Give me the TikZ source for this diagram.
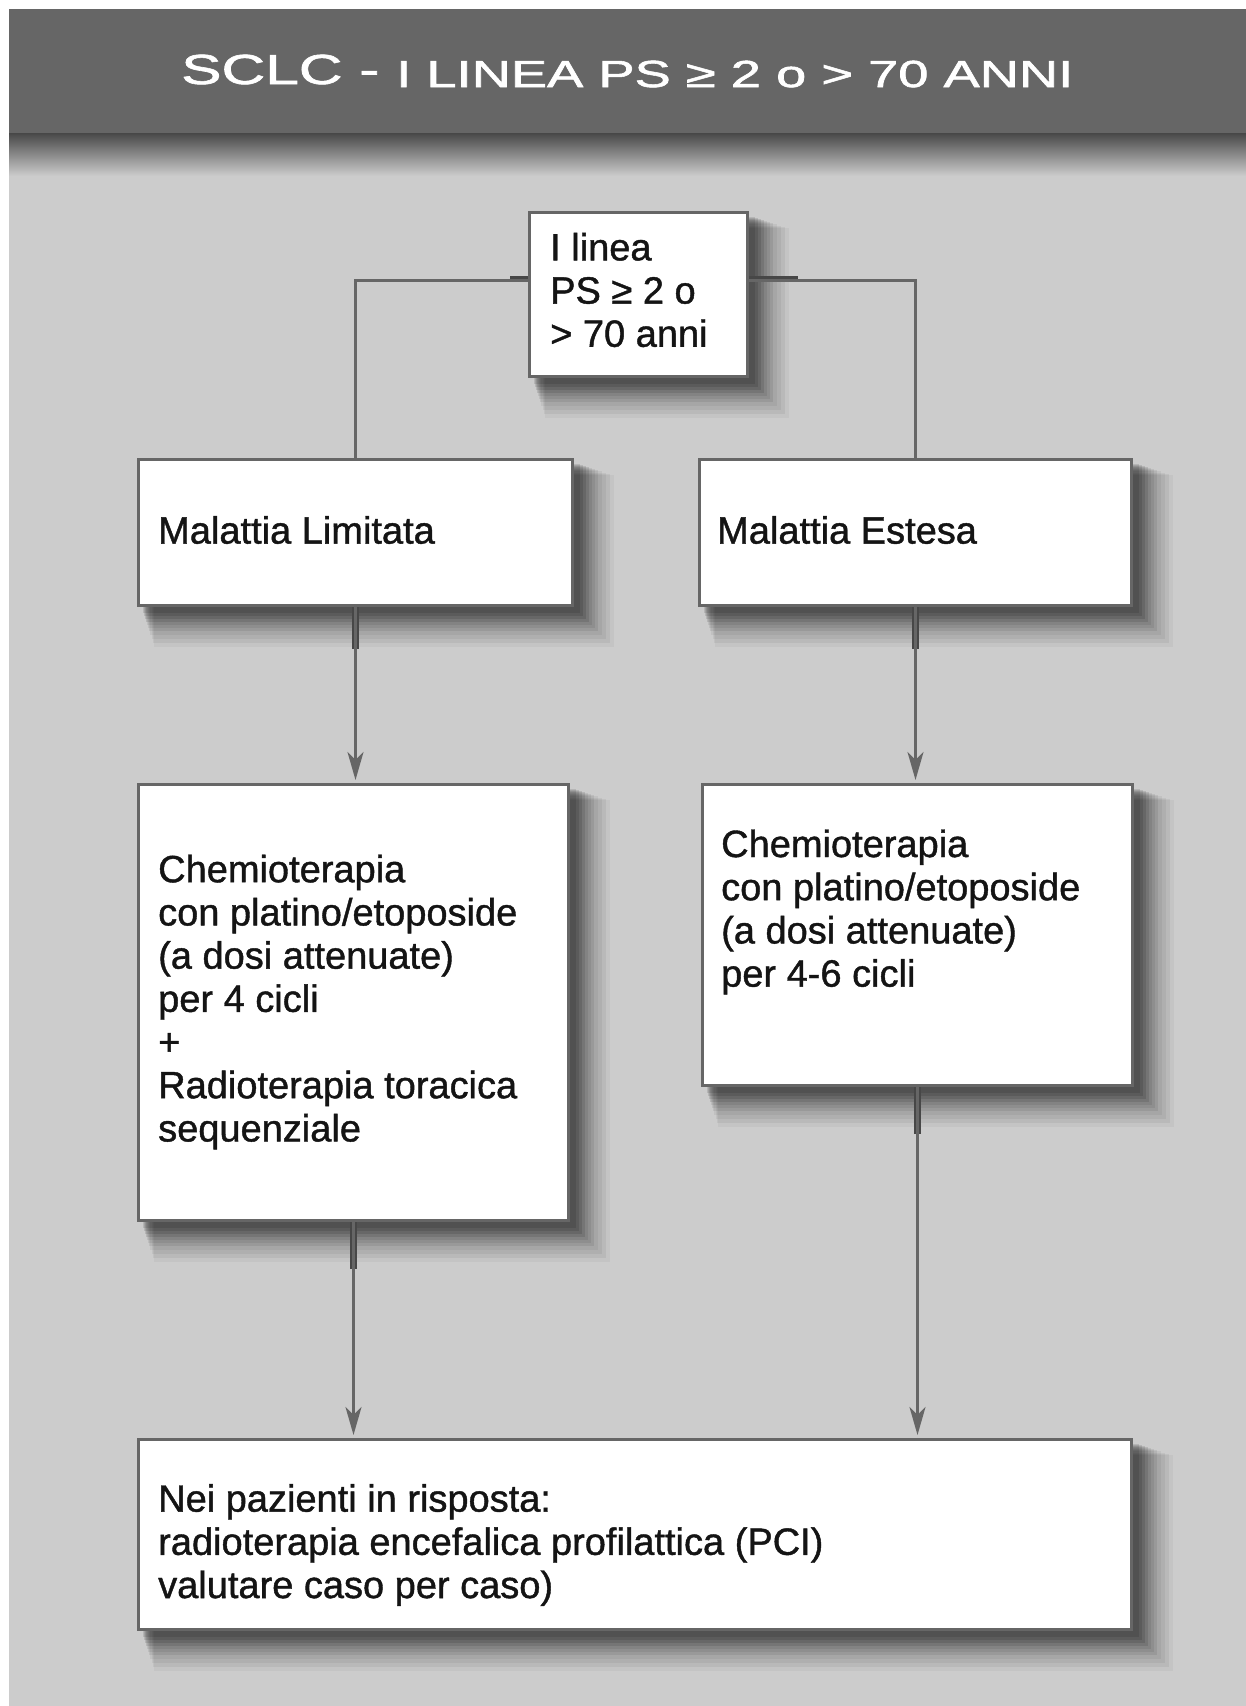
\documentclass[tikz,border=0pt]{standalone}
\usepackage{fontspec}
\usepackage{graphicx}
\setmainfont{Liberation Sans}
\newfontfamily\bodyfont[FakeBold=1.1]{Liberation Sans}
\newfontfamily\headfont[FakeBold=1.4]{Liberation Sans}
\usetikzlibrary{arrows.meta}
\definecolor{panelbg}{HTML}{CCCCCC}
\definecolor{bandgray}{HTML}{666666}
\definecolor{edgegray}{HTML}{666666}
\definecolor{stubgray}{HTML}{474747}

\pgfdeclarelayer{panel}
\pgfdeclarelayer{shadow}
\pgfsetlayers{panel,shadow,main}

\begin{document}
\begin{tikzpicture}[x=1pt,y=-1pt,
  box/.style={draw=edgegray, line width=3pt, fill=white, inner sep=0pt,
    anchor=north west},
  txt/.style={anchor=west, align=left, inner sep=0pt,
    font=\bodyfont\fontsize{38}{43.2}\selectfont, text=black!92},
  conn/.style={draw=edgegray, line width=2.6pt},
  arr/.style={conn, -{Stealth[length=28pt,width=16pt,inset=8pt]}, shorten >=3pt},
  stub/.style={draw=stubgray, line width=7pt}
]
\useasboundingbox (0,0) rectangle (1246,1706);

% boxes
\node[box, minimum width=218pt, minimum height=164pt] (top) at (528,211) {};
\node[box, minimum width=434pt, minimum height=146pt] (ml) at (137,458) {};
\node[box, minimum width=432pt, minimum height=146pt] (me) at (698,458) {};
\node[box, minimum width=430pt, minimum height=436pt] (cl) at (137,783) {};
\node[box, minimum width=430pt, minimum height=301pt] (cr) at (701,783) {};
\node[box, minimum width=993pt, minimum height=190pt] (bot) at (137,1438) {};

% page, panel and title band
\begin{pgfonlayer}{panel}
\fill[white] (0,0) rectangle (1246,1706);
\fill[panelbg] (9,9) rectangle (1246,1706);
\shade[top color=black!72, bottom color=panelbg] (9,133) rectangle (1246,176);
\fill[bandgray] (9,9) rectangle (1246,133);
\end{pgfonlayer}

% soft drop shadows behind the boxes
\begin{pgfonlayer}{shadow}
\foreach \b in {top,ml,me,cl,cr,bot}{
  \foreach \s/\a in {6/.11,9/.11,12/.11,15/.11,18/.07,21/.07,24/.07,28/.05,32/.05,36/.05,40/.04}{
    \fill[black, opacity=\a]
      ([shift={({4+\s/3},{4+\s/3})}]\b.north west) rectangle ([shift={(\s,\s)}]\b.south east);
  }
}
\end{pgfonlayer}

\node[anchor=base west, inner sep=0pt, text=white] (title) at (181,87)
  {\scalebox{1.44}[1]{\headfont\fontsize{42}{42}\selectfont\raisebox{3pt}{SCLC -} \fontsize{37.7}{40}\selectfont I LINEA PS ≥ 2 o > 70 ANNI}};

% connectors
\draw[stub, line width=5pt] ([yshift=16pt]top.west) -- ++(-18,0);
\draw[stub, line width=5pt] ([yshift=16pt]top.east) -- ++(49,0);
\draw[conn] ([yshift=14pt]top.west) -| (ml.north);
\draw[conn] ([yshift=14pt]top.east) -| (me.north);

\draw[stub] (ml.south) -- ++(0,42);
\draw[stub] (me.south) -- ++(0,42);
\draw[stub] (cl.south) -- ++(0,47);
\draw[stub] (cr.south) -- ++(0,47);

\draw[arr] (ml.south) -- (ml.south |- cl.north);
\draw[arr] (me.south) -- (me.south |- cr.north);
\draw[arr] (cl.south) -- (cl.south |- bot.north);
\draw[arr] (cr.south) -- (cr.south |- bot.north);

% box texts
\node[txt] (top-t) at (550,290) {I linea\\PS ≥ 2 o\\> 70 anni};
\node[txt] (ml-t) at (158,530) {Malattia Limitata};
\node[txt] (me-t) at (717,530) {Malattia Estesa};
\node[txt] (cl-t) at (158,1002) {Chemioterapia\\con platino/etoposide\\(a dosi attenuate)\\per 4 cicli\\+\\Radioterapia toracica\\sequenziale};
\node[txt] (cr-t) at (721,912) {Chemioterapia\\con platino/etoposide\\(a dosi attenuate)\\per 4-6 cicli};
\node[txt] (bot-t) at (158,1545) {Nei pazienti in risposta:\\radioterapia encefalica profilattica (PCI)\\valutare caso per caso)};
\end{tikzpicture}
\end{document}
